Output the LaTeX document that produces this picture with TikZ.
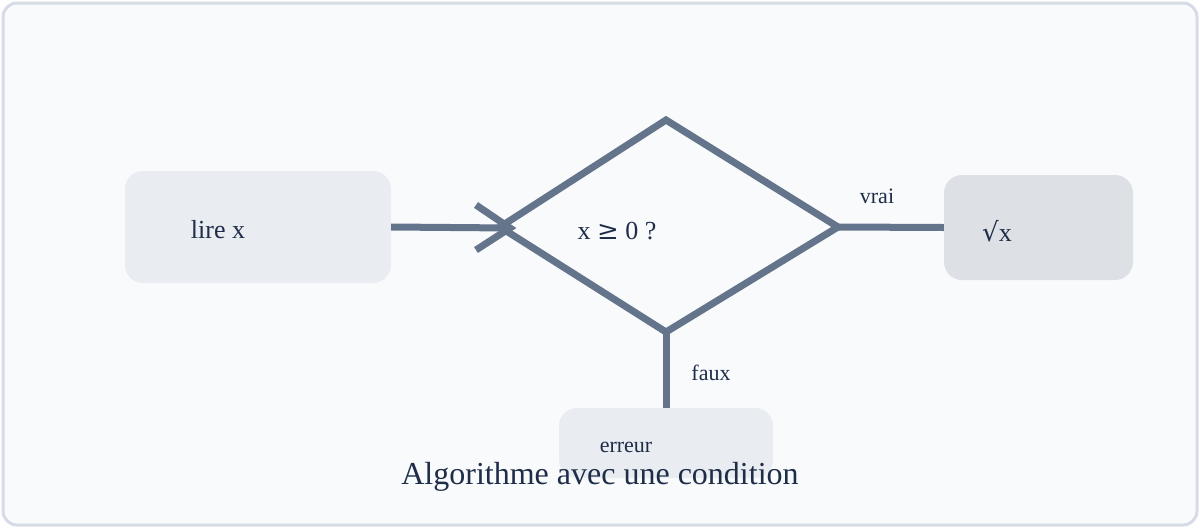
\documentclass[tikz,border=0pt]{standalone}
\usepackage{fontspec}
\setmainfont{Liberation Serif}
\newfontfamily\symfont{DejaVu Serif}
\definecolor{frame}{HTML}{D5DCE6}
\definecolor{bg}{HTML}{F8FAFC}
\definecolor{boxa}{HTML}{E9ECF0}
\definecolor{boxb}{HTML}{DDE1E5}
\definecolor{edge}{HTML}{64748B}
\definecolor{txt}{HTML}{1E2D48}
\begin{document}
\begin{tikzpicture}[x=1pt,y=-1pt,
  box/.style={fill=boxa,draw=none,rounded corners=18pt},
  conn/.style={draw=edge,line width=7pt},
  lbl/.style={text=txt,font=\fontsize{26}{30}\selectfont,inner sep=0pt},
  small/.style={text=txt,font=\fontsize{22}{26}\selectfont,inner sep=0pt}]
\useasboundingbox (0,0) rectangle (1200,528);
\draw[frame,fill=bg,line width=3pt,rounded corners=14pt] (3,3) rectangle (1197,525);
\node[box,minimum width=266pt,minimum height=112pt] (lire) at (258,227) {};
\node[box,fill=boxb,minimum width=189pt,minimum height=105pt] (sq) at (1038.5,227.5) {};
\node[box,minimum width=214pt,minimum height=70pt] (err) at (666,443) {};
\coordinate (dt) at (666,120);
\coordinate (dl) at (500,227);
\coordinate (dr) at (838,227);
\coordinate (db) at (666,332);
\draw[conn,line join=miter] (dt) -- (dr) -- (db) -- (dl) -- cycle;
\coordinate (tip) at (510,228);
\draw[conn] (lire.east) -- (tip);
\draw[conn] (476,205) -- (tip) -- (476,250);
\draw[conn] (dr) -- (sq.west);
\draw[conn] (db) -- (err.north);
\node[lbl] (t1) at (218,230) {lire x};
\node[lbl] (t2) at (617,231) {x {\symfont ≥} 0 ?};
\node[lbl] (t3) at (997,231) {{\symfont √}x};
\node[small] (t4) at (626,447) {erreur};
\node[small] (v) at (877,196) {vrai};
\node[small] (f) at (711,373) {faux};
\node[text=txt,font=\fontsize{32}{36}\selectfont,inner sep=0pt] (title) at (600,477) {Algorithme avec une condition};
\end{tikzpicture}
\end{document}
